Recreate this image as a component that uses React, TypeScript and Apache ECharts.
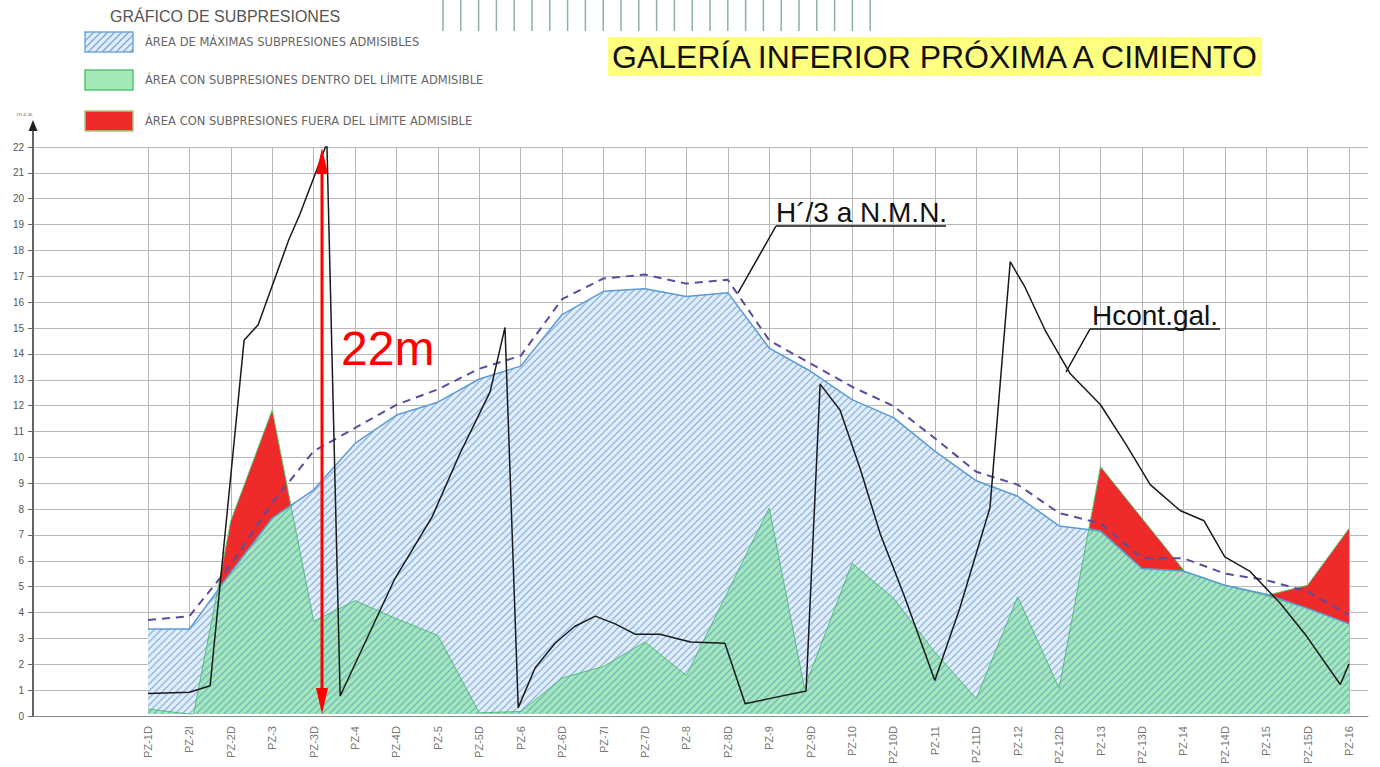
import React, { useEffect, useRef } from "react";
import * as echarts from "echarts";

const FONT = "'Liberation Sans', Arial, sans-serif";
const WIDE_FONT = "'DejaVu Sans', 'Liberation Sans', sans-serif";

// x categories (piezometers)
const CATEGORIES = [
  "PZ-1D", "PZ-2I", "PZ-2D", "PZ-3", "PZ-3D", "PZ-4", "PZ-4D", "PZ-5", "PZ-5D", "PZ-6",
  "PZ-6D", "PZ-7I", "PZ-7D", "PZ-8", "PZ-8D", "PZ-9", "PZ-9D", "PZ-10", "PZ-10D", "PZ-11",
  "PZ-11D", "PZ-12", "PZ-12D", "PZ-13", "PZ-13D", "PZ-14", "PZ-14D", "PZ-15", "PZ-15D", "PZ-16",
];

// Máximas subpresiones admisibles (blue limit), one value per category
const MAX_ADMISIBLE = [
  3.3, 3.3, 5.5, 7.6, 8.7, 10.5, 11.6, 12.1, 13.0, 13.5,
  15.5, 16.4, 16.5, 16.2, 16.35, 14.2, 13.3, 12.2, 11.5, 10.2,
  9.05, 8.45, 7.3, 7.1, 5.65, 5.55, 5.0, 4.65, 4.1, 3.5,
];

// H'/3 a N.M.N. (dashed)
const H_NMN = [
  3.65, 3.8, 5.8, 8.2, 10.2, 11.1, 12.0, 12.6, 13.4, 13.9,
  16.1, 16.9, 17.05, 16.7, 16.85, 14.5, 13.6, 12.7, 11.95, 10.7,
  9.4, 8.9, 7.8, 7.4, 6.05, 6.05, 5.45, 5.2, 4.75, 3.85,
];

// Hcont.gal. (black line), [category position, value]
const H_CONT_GAL: [number, number][] = [
  [0, 0.8], [1, 0.85], [1.5, 1.1], [2.32, 14.5], [2.66, 15.1], [3.4, 18.4], [3.67, 19.4],
  [4.32, 22.15], [4.64, 0.7], [5.96, 5.25], [6.86, 7.65], [7.53, 10.1], [8.26, 12.5],
  [8.62, 15.0], [8.94, 0.25], [9.35, 1.8], [9.83, 2.75], [10.3, 3.4], [10.8, 3.8],
  [11.28, 3.5], [11.76, 3.1], [12.36, 3.1], [13.1, 2.8], [13.93, 2.75], [14.42, 0.4],
  [15.0, 0.6], [15.89, 0.9], [16.23, 12.8], [16.71, 11.8], [17.2, 9.5], [17.68, 7.0],
  [18.28, 4.5], [19.0, 1.3], [19.6, 4.1], [20.33, 8.0], [20.82, 17.55], [21.18, 16.55],
  [21.66, 14.9], [22.27, 13.2], [23.0, 12.0], [23.6, 10.5], [24.2, 8.9], [24.92, 7.9],
  [25.5, 7.5], [26.0, 6.1], [26.6, 5.55], [27.34, 4.3], [27.94, 3.1], [28.79, 1.15],
  [29.0, 1.95],
];

// Área con subpresiones dentro del límite admisible (green top)
const WITHIN_LIMIT: [number, number][] = [
  [0, 0.2], [1, 0], [1.1, 0], [1.68, 4.8], [2, 5.5], [3, 7.6], [3.45, 8.1], [4, 3.6],
  [5, 4.4], [6, 3.7], [7, 3.05], [8, 0.05], [9, 0.1], [10, 1.4], [11, 1.85], [12, 2.8],
  [13, 1.5], [15, 8.0], [15.85, 1.0], [17, 5.85], [18, 4.5], [19, 2.4], [20, 0.6],
  [21, 4.55], [22, 1.0], [22.72, 7.2], [23, 7.1], [24, 5.65], [25, 5.55], [26, 5.0],
  [27, 4.6], [28, 4.1], [29, 3.5],
];

// Área con subpresiones fuera del límite admisible (red top), three separate zones
const OUT_OF_LIMIT_A: [number, number][] = [[1.68, 4.8], [2, 7.5], [3, 11.8], [3.45, 8.1]];
const OUT_OF_LIMIT_B: [number, number][] = [[22.72, 7.2], [23, 9.6], [24, 7.6], [25, 5.6]];
const OUT_OF_LIMIT_C: [number, number][] = [[27, 4.6], [28, 5.0], [29, 7.2]];

const LEGEND_TEXTS = [
  "ÁREA DE MÁXIMAS SUBPRESIONES ADMISIBLES",
  "ÁREA CON SUBPRESIONES DENTRO DEL LÍMITE ADMISIBLE",
  "ÁREA CON SUBPRESIONES FUERA DEL LÍMITE ADMISIBLE",
];

function makeHatch(stripe: string, bg: string | null, size: number) {
  const c = document.createElement("canvas");
  c.width = size;
  c.height = size;
  const ctx = c.getContext("2d")!;
  if (bg) {
    ctx.fillStyle = bg;
    ctx.fillRect(0, 0, size, size);
  }
  ctx.strokeStyle = stripe;
  ctx.lineWidth = 1.3;
  ctx.beginPath();
  ctx.moveTo(0, size);
  ctx.lineTo(size, 0);
  ctx.moveTo(-size / 2, size / 2);
  ctx.lineTo(size / 2, -size / 2);
  ctx.moveTo(size / 2, size * 1.5);
  ctx.lineTo(size * 1.5, size / 2);
  ctx.stroke();
  return c;
}

export default function App() {
  const ref = useRef<HTMLDivElement>(null);

  useEffect(() => {
    document.body.style.margin = "0";
    const chart = echarts.init(ref.current!, undefined, { renderer: "svg" });

    const hatch = makeHatch("rgba(80,135,205,0.55)", null, 7);
    const hatchLegend = makeHatch("rgba(80,135,205,0.7)", "#e1edf9", 7);

    const BLUE_FILL = "#e1edf9";
    const GREEN = "#a3e8b8";
    const GREEN_LINE = "#58c46c";
    const RED = "#ee2a2a";

    const redSeries = [OUT_OF_LIMIT_A, OUT_OF_LIMIT_B, OUT_OF_LIMIT_C].map((d) => ({
      type: "line",
      xAxisIndex: 1,
      yAxisIndex: 1,
      data: d,
      symbol: "none",
      lineStyle: { color: GREEN_LINE, width: 1 },
      areaStyle: { color: RED, opacity: 1 },
      z: 2,
    }));

    const decoLines: any[] = [];
    for (let i = 0; i < 25; i++) {
      const x = 443 + i * 17.8;
      decoLines.push({
        type: "line",
        shape: { x1: x, y1: 0, x2: x, y2: 31 },
        style: { stroke: "#8ab59a", lineWidth: 1.5 },
      });
    }

    const legendY = [32, 70, 111];
    const legendFills = [hatchLegend, GREEN, RED];
    const legendStroke = ["#6fa8dc", GREEN_LINE, "#9bd37a"];

    const graphic: any[] = [
      ...decoLines,
      {
        type: "text",
        x: 110,
        y: 16,
        style: {
          text: "GRÁFICO DE SUBPRESIONES",
          font: `16px ${FONT}`,
          fill: "#555",
          textVerticalAlign: "middle",
        },
      },
      ...legendY.map((y, i) => ({
        type: "rect",
        shape: { x: 85, y, width: 48, height: 20 },
        style: {
          fill: i === 0 ? { image: legendFills[0], repeat: "repeat" } : legendFills[i],
          stroke: legendStroke[i],
          lineWidth: 1.5,
        },
      })),
      ...legendY.map((y, i) => ({
        type: "text",
        x: 145,
        y: y + 10,
        style: {
          text: LEGEND_TEXTS[i],
          font: `11.5px ${WIDE_FONT}`,
          fill: "#666",
          textVerticalAlign: "middle",
        },
      })),
      {
        type: "rect",
        shape: { x: 608, y: 37, width: 654, height: 39 },
        style: { fill: "#ffff80" },
      },
      {
        type: "text",
        x: 612,
        y: 57,
        style: {
          text: "GALERÍA INFERIOR PRÓXIMA A CIMIENTO",
          font: `32px ${FONT}`,
          fill: "#111",
          textVerticalAlign: "middle",
        },
      },
      // y-axis arrow extension and unit
      { type: "line", shape: { x1: 33, y1: 148, x2: 33, y2: 128 }, style: { stroke: "#666", lineWidth: 2 } },
      { type: "polygon", shape: { points: [[28.5, 131], [37.5, 131], [33, 120]] }, style: { fill: "#222" } },
      {
        type: "text",
        x: 25,
        y: 114,
        style: { text: "m.c.a.", font: `6px ${FONT}`, fill: "#777", textAlign: "center", textVerticalAlign: "middle" },
      },
      // H'/3 label
      {
        type: "text",
        x: 776,
        y: 212,
        z: 100,
        style: { text: "H´/3 a N.M.N.", font: `28px ${FONT}`, fill: "#111", textVerticalAlign: "middle" },
      },
      { type: "line", z: 100, shape: { x1: 776, y1: 226, x2: 946, y2: 226 }, style: { stroke: "#111", lineWidth: 1.5 } },
      { type: "line", z: 100, shape: { x1: 776, y1: 226, x2: 738, y2: 293 }, style: { stroke: "#111", lineWidth: 1.5 } },
      // Hcont.gal. label
      {
        type: "text",
        x: 1092,
        y: 315,
        z: 100,
        style: { text: "Hcont.gal.", font: `28px ${FONT}`, fill: "#111", textVerticalAlign: "middle" },
      },
      { type: "line", z: 100, shape: { x1: 1090, y1: 329, x2: 1220, y2: 329 }, style: { stroke: "#111", lineWidth: 1.5 } },
      { type: "line", z: 100, shape: { x1: 1090, y1: 329, x2: 1066, y2: 372 }, style: { stroke: "#111", lineWidth: 1.5 } },
      // 22m arrow
      { type: "line", z: 100, shape: { x1: 322, y1: 168, x2: 322, y2: 694 }, style: { stroke: "#ff0000", lineWidth: 3 } },
      { type: "polygon", z: 100, shape: { points: [[316, 174], [328, 174], [322, 148]] }, style: { fill: "#ff0000" } },
      { type: "polygon", z: 100, shape: { points: [[316, 688], [328, 688], [322, 714]] }, style: { fill: "#ff0000" } },
      {
        type: "text",
        x: 341,
        y: 348,
        z: 100,
        style: { text: "22m", font: `48px ${FONT}`, fill: "#ff0000", textVerticalAlign: "middle" },
      },
    ];

    const option: any = {
      animation: false,
      backgroundColor: "#ffffff",
      textStyle: { fontFamily: FONT },
      grid: [
        { left: 33, right: 12, top: 147, bottom: 51 },
        { left: 148, right: 31, top: 147, bottom: 51 },
      ],
      xAxis: [
        {
          gridIndex: 0,
          type: "value",
          min: 0,
          max: 1,
          axisLine: { show: true, lineStyle: { color: "#888", width: 1 } },
          axisTick: { show: false },
          axisLabel: { show: false },
          splitLine: { show: false },
        },
        {
          gridIndex: 1,
          type: "value",
          min: 0,
          max: 29,
          interval: 1,
          axisLine: { show: false },
          axisTick: { show: false },
          axisLabel: {
            rotate: 90,
            formatter: (v: number) => CATEGORIES[v] ?? "",
            fontSize: 11,
            color: "#777",
            margin: 12,
            fontFamily: FONT,
          },
          splitLine: { show: true, lineStyle: { color: "#b8b8b8", width: 1 } },
        },
      ],
      yAxis: [
        {
          gridIndex: 0,
          type: "value",
          min: 0,
          max: 22,
          interval: 1,
          axisLine: { show: true, lineStyle: { color: "#666", width: 2 } },
          axisTick: { show: true, length: 5, lineStyle: { color: "#666" } },
          axisLabel: { fontSize: 10, color: "#555", margin: 9, fontFamily: FONT },
          splitLine: { show: true, lineStyle: { color: "#b8b8b8", width: 1 } },
        },
        { gridIndex: 1, type: "value", min: 0, max: 22, show: false },
      ],
      series: [
        {
          name: "fill",
          type: "line",
          xAxisIndex: 1,
          yAxisIndex: 1,
          data: MAX_ADMISIBLE.map((v, i) => [i, v]),
          symbol: "none",
          lineStyle: { width: 0 },
          areaStyle: { color: BLUE_FILL, opacity: 1 },
          z: 1,
        },
        ...redSeries,
        {
          name: "within",
          type: "line",
          xAxisIndex: 1,
          yAxisIndex: 1,
          data: WITHIN_LIMIT,
          symbol: "none",
          lineStyle: { color: GREEN_LINE, width: 1 },
          areaStyle: { color: GREEN, opacity: 1 },
          z: 3,
        },
        {
          name: "max",
          type: "line",
          xAxisIndex: 1,
          yAxisIndex: 1,
          data: MAX_ADMISIBLE.map((v, i) => [i, v]),
          symbol: "none",
          lineStyle: { color: "#5b9bd5", width: 1.5 },
          areaStyle: { color: { image: hatch, repeat: "repeat" }, opacity: 1 },
          z: 4,
        },
        {
          name: "H/3",
          type: "line",
          xAxisIndex: 1,
          yAxisIndex: 1,
          data: H_NMN.map((v, i) => [i, v]),
          symbol: "none",
          lineStyle: { color: "#5a4c9c", width: 2, type: [8, 6] },
          z: 5,
        },
        {
          name: "Hcont",
          type: "line",
          xAxisIndex: 1,
          yAxisIndex: 1,
          data: H_CONT_GAL,
          symbol: "none",
          lineStyle: { color: "#1a1a1a", width: 1.5 },
          z: 6,
        },
      ],
      graphic,
    };

    chart.setOption(option);
    return () => chart.dispose();
  }, []);

  return (
    <div
      ref={ref}
      style={{ position: "absolute", left: 0, top: 0, width: 1380, height: 767 }}
    />
  );
}
